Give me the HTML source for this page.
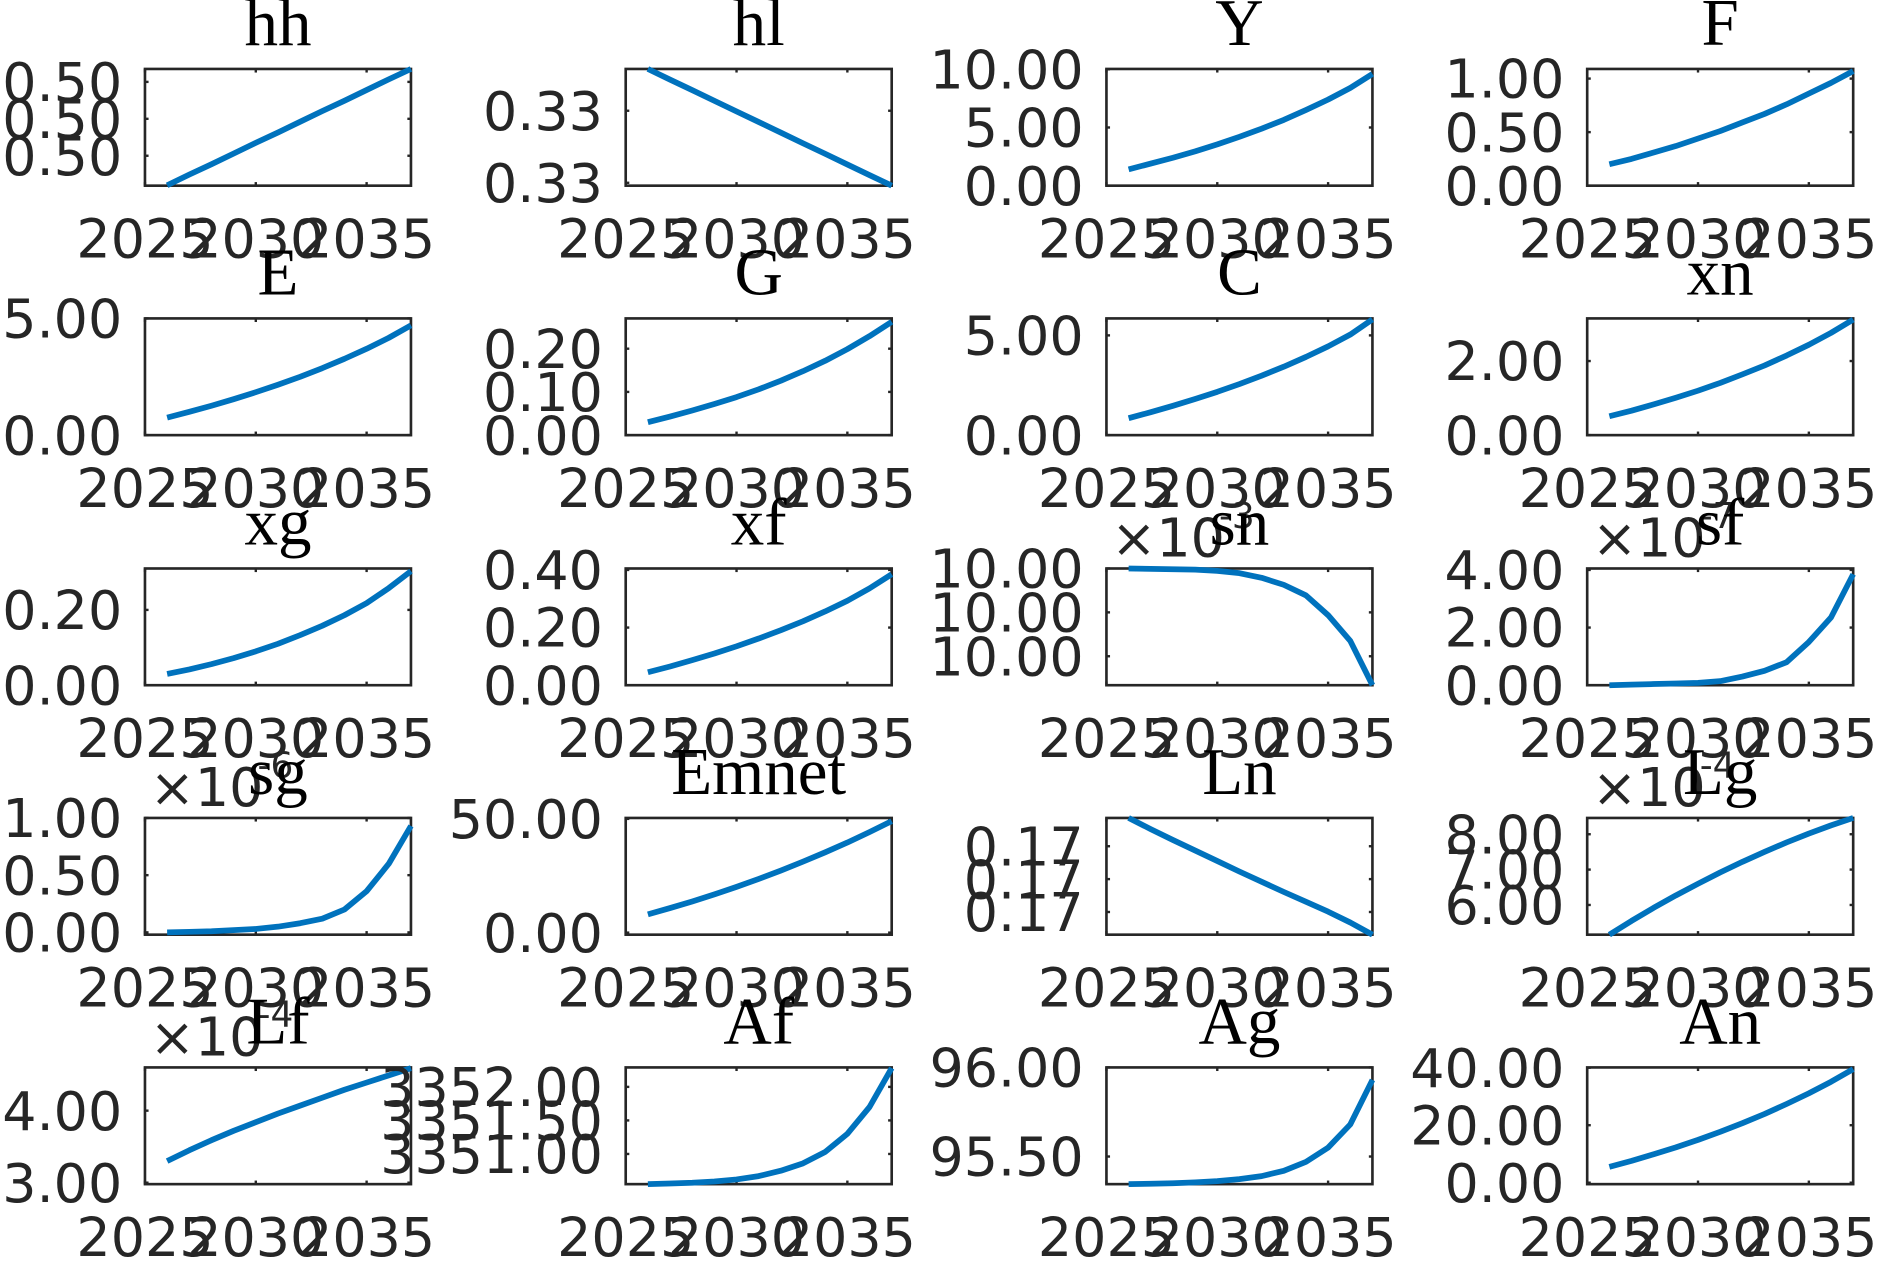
<!DOCTYPE html>
<html><head><meta charset="utf-8"><style>
html,body{margin:0;padding:0;background:#fff;}
svg{display:block;}
</style></head>
<body>
<svg id="fig" width="1877" height="1261" viewBox="0 0 1568 1053.4" xmlns="http://www.w3.org/2000/svg"></svg>
<script>
const years = [2026,2027,2028,2029,2030,2031,2032,2033,2034,2035,2036,2037];
const xTicks = [2025,2030,2035];
const xTickLabels = ["2025","2030","2035"];
const titles = ["hh","hl","Y","F","E","G","C","xn","xg","xf","sn","sf","sg","Emnet","Ln","Lg","Lf","Af","Ag","An"];

const hhValues = [0.499870,0.499899,0.499927,0.499956,0.499985,0.500013,0.500042,0.500071,0.500099,0.500128,0.500157,0.500185];
const hlValues = [0.3333790,0.3333716,0.3333643,0.3333569,0.3333495,0.3333422,0.3333348,0.3333274,0.3333201,0.3333127,0.3333053,0.3332980];
const YValues = [1.4,1.9,2.4,2.95,3.55,4.2,4.9,5.65,6.5,7.4,8.4,9.6];
const FValues = [0.2,0.25,0.31,0.37,0.44,0.51,0.59,0.67,0.76,0.86,0.96,1.07];
const EValues = [0.75,1.0,1.26,1.54,1.84,2.16,2.5,2.87,3.27,3.7,4.17,4.7];
const GValues = [0.03,0.043,0.057,0.072,0.088,0.106,0.126,0.148,0.172,0.199,0.229,0.262];
const CValues = [0.85,1.15,1.47,1.81,2.17,2.56,2.98,3.43,3.92,4.45,5.04,5.8];
const xnValues = [0.51,0.66,0.83,1.01,1.2,1.41,1.64,1.88,2.15,2.44,2.76,3.12];
const xgValues = [0.03,0.042,0.056,0.072,0.09,0.11,0.133,0.158,0.186,0.218,0.258,0.303];
const xfValues = [0.045,0.065,0.087,0.11,0.135,0.162,0.191,0.222,0.256,0.293,0.336,0.385];
const snValues = [10.0,9.999996,9.999992,9.999987,9.999973,9.999947,9.999894,9.999814,9.999694,9.999468,9.999175,9.99867];
const sfValues = [0,0.02,0.04,0.06,0.08,0.14,0.3,0.5,0.8,1.5,2.35,3.85];
const sgValues = [0.0,0.005,0.01,0.02,0.03,0.05,0.08,0.12,0.2,0.36,0.6,0.93];
const EmnetValues = [8,10.8,13.7,16.8,20.1,23.6,27.3,31.2,35.3,39.6,44.2,49];
const LnValues = [0.170386,0.170352,0.170319,0.170287,0.170255,0.170223,0.170192,0.170161,0.170131,0.170101,0.170068,0.170031];
const LgValues = [5.16,5.55,5.92,6.27,6.6,6.92,7.22,7.5,7.77,8.02,8.25,8.46];
const LfValues = [3.3,3.45,3.59,3.72,3.84,3.96,4.07,4.18,4.29,4.39,4.49,4.59];
const AfValues = [3350.55,3350.56,3350.57,3350.59,3350.62,3350.67,3350.75,3350.86,3351.03,3351.3,3351.7,3352.28];
const AgValues = [95.345,95.347,95.35,95.355,95.362,95.373,95.39,95.42,95.47,95.55,95.68,95.93];
const AnValues = [5.5,7.6,9.9,12.3,14.9,17.7,20.7,23.9,27.4,31.1,35.1,39.5];

const yMins = [0.499869,0.333298,0,0,0,0,0,0,0,0,9.99867,0,-0.02,-0.9,0.170031,5.16,2.98,3350.55,95.345,-0.5];
const yMaxs = [0.500185,0.333379,10.03,1.09,5.0,0.27,5.85,3.15,0.31,0.405,10.0,4.05,1.0,50.4,0.170386,8.46,4.6,3352.29,96.0,40.1];
const yTicks = [[0.49995,0.50005,0.50015],[0.3333,0.33335],[0,5,10],[0,0.5,1],[0,5],[0,0.1,0.2],[0,5],[0,2],[0,0.2],[0,0.2,0.4],[9.999,9.9995,10.0],[0,2,4],[0,0.5,1],[0,50],[0.1701,0.1702,0.1703],[6,7,8],[3,4],[3351,3351.5,3352],[95.5,96],[0,20,40]];
const yTickLabels = [["0.50","0.50","0.50"],["0.33","0.33"],["0.00","5.00","10.00"],["0.00","0.50","1.00"],["0.00","5.00"],["0.00","0.10","0.20"],["0.00","5.00"],["0.00","2.00"],["0.00","0.20"],["0.00","0.20","0.40"],["10.00","10.00","10.00"],["0.00","2.00","4.00"],["0.00","0.50","1.00"],["0.00","50.00"],["0.17","0.17","0.17"],["6.00","7.00","8.00"],["3.00","4.00"],["3351.00","3351.50","3352.00"],["95.50","96.00"],["0.00","20.00","40.00"]];
const exponents = [null,null,null,null,null,null,null,null,null,null,"-3","-7","-6",null,null,"-4","-4",null,null,null];
const seriesList = [hhValues,hlValues,YValues,FValues,EValues,GValues,CValues,xnValues,xgValues,xfValues,snValues,sfValues,sgValues,EmnetValues,LnValues,LgValues,LfValues,AfValues,AgValues,AnValues];

const NS = "http://www.w3.org/2000/svg";
const svg = document.getElementById('fig');
const colLefts = [121.1,522.7,924.3,1325.9];
const rowTops = [57.6,266.0,474.9,683.3,891.7];
const W = 222.2, H = 97.5;
const TXT = "#262626";
const FS = 45;

function mk(tag, attrs, parent){
  const e = document.createElementNS(NS, tag);
  for (const k in attrs) e.setAttribute(k, attrs[k]);
  (parent||svg).appendChild(e);
  return e;
}

titles.forEach((title, i) => {
  const L = colLefts[i % 4], T = rowTops[Math.floor(i / 4)];
  const B = T + H, R = L + W;
  const y0 = yMins[i], y1 = yMaxs[i];
  const xs = v => L + (v - 2025) / 12 * W;
  const ys = v => B - (v - y0) / (y1 - y0) * H;
  const g = mk('g', {});
  
  

  const box = mk('rect', {x:L, y:T, width:W, height:H, fill:'#fff', stroke:TXT, 'stroke-width':2.2}, g);
  
  

  xTicks.forEach((t, k) => {
    const x = xs(t);
    mk('line', {x1:x, y1:B, x2:x, y2:B-3, stroke:TXT, 'stroke-width':2}, g);
    mk('line', {x1:x, y1:T, x2:x, y2:T+3, stroke:TXT, 'stroke-width':2}, g);
    const tl = mk('text', {x:x, y:B+60, 'text-anchor':'middle', 'font-family':'"DejaVu Sans","Liberation Sans",sans-serif', 'font-size':FS, fill:TXT}, g);
    tl.textContent = xTickLabels[k];
    
    
  });

  yTicks[i].forEach((t, k) => {
    const y = ys(t);
    mk('line', {x1:L, y1:y, x2:L+3, y2:y, stroke:TXT, 'stroke-width':2}, g);
    mk('line', {x1:R, y1:y, x2:R-3, y2:y, stroke:TXT, 'stroke-width':2}, g);
    const tl = mk('text', {x:L-19, y:y+16, 'text-anchor':'end', 'font-family':'"DejaVu Sans","Liberation Sans",sans-serif', 'font-size':FS, fill:TXT}, g);
    tl.textContent = yTickLabels[i][k];
    
    
  });

  const vals = seriesList[i];
  const d = vals.map((v, k) => (k ? 'L' : 'M') + xs(years[k]).toFixed(2) + ' ' + ys(v).toFixed(2)).join(' ');
  const p = mk('path', {d:d, fill:'none', stroke:'#0072BD', 'stroke-width':4.8, 'stroke-linejoin':'round'}, g);
  
  

  if (exponents[i]) {
    const ex = mk('text', {x:L+4, y:T-10, 'font-family':'"DejaVu Sans","Liberation Sans",sans-serif', 'font-size':FS, fill:TXT}, g);
    ex.textContent = '\u00d710';
    
    
    const sup = mk('text', {x:L+94, y:T-34, 'font-family':'"DejaVu Sans","Liberation Sans",sans-serif', 'font-size':30, fill:TXT}, g);
    sup.textContent = exponents[i];
    
    
  }

  const tt = mk('text', {x:L+W/2, y:T-20, 'text-anchor':'middle', 'font-family':'"Liberation Serif",serif', 'font-size':56, fill:'#000'}, g);
  tt.textContent = title;
  
  
});
</script>
</body></html>
